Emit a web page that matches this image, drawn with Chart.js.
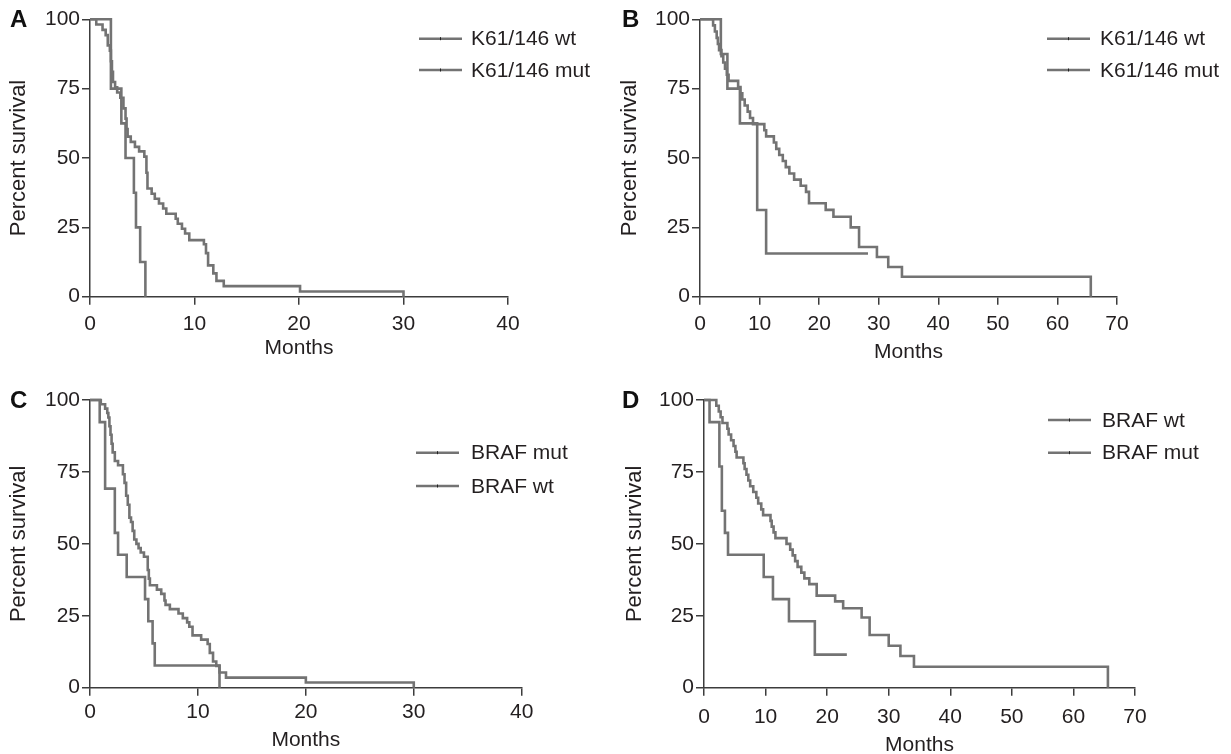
<!DOCTYPE html>
<html>
<head>
<meta charset="utf-8">
<title>Survival by K61/146 and BRAF status</title>
<script src="https://cdn.jsdelivr.net/npm/chart.js@4.4.1/dist/chart.umd.min.js"></script>
<style>
  html, body { margin: 0; padding: 0; background: #fff; overflow: hidden; width: 1231px; height: 754px; }
  canvas { position: absolute; }
</style>
</head>
<body>
<canvas id="panelA" style="left:0px;top:0px" width="615" height="377"></canvas>
<canvas id="panelB" style="left:615px;top:0px" width="616" height="377"></canvas>
<canvas id="panelC" style="left:0px;top:377px" width="615" height="390"></canvas>
<canvas id="panelD" style="left:615px;top:377px" width="616" height="390"></canvas>
<script>
// ---- Tick values ----
const percentTicks = [0, 25, 50, 75, 100];
const monthTicksShort = [0, 10, 20, 30, 40];
const monthTicksLong = [0, 10, 20, 30, 40, 50, 60, 70];

// ---- Panel A: K61/146 status (short follow-up) ----
const aWtMonths = [0, 0.6, 1.2, 1.5, 1.7, 1.9, 2.0, 2.1, 2.2, 2.4, 2.6, 2.9, 3.2, 3.4, 3.5, 3.6, 3.9, 4.3, 4.7, 5.2, 5.4, 5.5, 5.9, 6.2, 6.6, 7.0, 7.3, 8.2, 8.4, 8.8, 9.1, 9.5, 10.9, 11.1, 11.3, 11.8, 12.1, 12.8, 20.1, 30.0];
const aWtSurv   = [100, 98.1, 96.2, 94.3, 90.6, 88.7, 84.9, 81.1, 77.4, 75.5, 73.6, 71.7, 67.9, 64.2, 60.4, 57.7, 55.8, 54.0, 52.4, 50.5, 44.7, 39.0, 37.1, 35.3, 33.6, 31.8, 29.9, 28.1, 26.3, 24.5, 22.8, 20.4, 18.9, 15.7, 11.3, 8.4, 5.7, 3.8, 1.9, 0];
const aMutMonths = [0, 2.0, 3.0, 3.4, 4.2, 4.4, 4.8, 5.3];
const aMutSurv   = [100, 75, 62.5, 50, 37.5, 25, 12.5, 0];

// ---- Panel B: K61/146 status (long follow-up) ----
const bWtMonths = [0, 2.2, 2.5, 2.8, 3.0, 3.2, 3.6, 3.9, 4.2, 4.5, 4.8, 6.4, 6.8, 7.1, 7.5, 8.0, 8.4, 8.9, 10.8, 11.1, 12.4, 12.8, 13.3, 13.9, 14.4, 15.0, 15.8, 16.9, 17.8, 18.3, 21.1, 22.4, 25.3, 26.7, 29.7, 31.6, 33.9, 65.6];
const bWtSurv   = [100, 97.8, 95.6, 93.3, 91.1, 88.9, 86.7, 84.4, 82.2, 80.0, 77.8, 75.6, 73.3, 71.1, 68.9, 66.7, 64.4, 62.2, 60.0, 57.8, 55.6, 53.3, 51.1, 48.9, 46.7, 44.4, 42.2, 40.0, 37.8, 33.7, 31.3, 28.8, 25.0, 17.9, 14.3, 10.7, 7.2, 0];
const bMutMonths = [0, 3.5, 4.6, 6.7, 9.6, 11.1, 28.2];
const bMutSurv   = [100, 87.5, 75, 62.5, 31.25, 15.6, 15.6];

// ---- Panel C: BRAF status (short follow-up) ----
const cMutMonths = [0, 0.9, 1.4, 2.3, 2.6, 3.4, 5.1, 5.4, 5.8, 6.0, 12.0];
const cMutSurv   = [100, 92.3, 69.2, 53.8, 46.2, 38.5, 30.8, 23.1, 15.4, 7.7, 0];
const cWtMonths = [0, 1.0, 1.4, 1.6, 1.7, 1.8, 1.9, 2.0, 2.1, 2.3, 2.6, 3.05, 3.2, 3.35, 3.5, 3.65, 3.8, 3.95, 4.1, 4.3, 4.5, 4.7, 5.0, 5.35, 5.45, 5.55, 6.2, 6.6, 6.9, 7.0, 7.4, 8.2, 8.6, 9.0, 9.2, 9.5, 10.3, 10.9, 11.1, 11.4, 11.7, 12.0, 12.6, 20.0, 30.0];
const cWtSurv   = [100, 98.5, 97.0, 95.5, 93.9, 90.9, 87.9, 84.8, 81.8, 78.8, 77.3, 74.2, 71.2, 66.7, 63.6, 59.1, 57.6, 54.5, 51.5, 50.0, 48.5, 47.0, 45.5, 40.9, 37.9, 35.6, 34.1, 32.6, 30.3, 28.8, 27.3, 25.8, 24.2, 22.7, 21.2, 18.2, 16.7, 15.2, 12.1, 9.1, 7.6, 5.3, 3.5, 1.8, 0];

// ---- Panel D: BRAF status (long follow-up) ----
const dWtMonths = [0, 2.0, 2.4, 2.7, 3.0, 3.8, 4.0, 4.4, 4.8, 5.1, 5.3, 6.4, 6.6, 6.9, 7.2, 7.5, 8.0, 8.5, 8.8, 9.3, 9.6, 10.8, 11.0, 11.3, 11.6, 13.4, 14.0, 14.4, 14.8, 15.2, 15.8, 16.3, 17.1, 18.3, 21.3, 22.6, 25.6, 26.9, 30.0, 31.9, 34.1, 65.6];
const dWtSurv   = [100, 98.0, 96.0, 94.0, 92.0, 90.0, 88.0, 86.0, 84.0, 82.0, 80.0, 78.0, 76.0, 74.0, 72.0, 70.0, 68.0, 66.0, 64.0, 62.0, 60.0, 58.0, 56.0, 54.0, 52.0, 50.0, 48.0, 46.0, 44.0, 42.0, 40.0, 38.0, 36.0, 32.0, 30.0, 27.6, 24.4, 18.3, 14.6, 11.0, 7.3, 0];
const dMutMonths = [0, 0.9, 2.5, 2.9, 3.4, 3.9, 9.7, 11.2, 13.8, 18.0, 23.2];
const dMutSurv   = [100, 92.3, 76.9, 61.5, 53.8, 46.2, 38.5, 30.8, 23.1, 11.5, 11.5];

// ---- Styling ----
const FONT = '"Liberation Sans", Arial, Helvetica, sans-serif';
const TEXT = '#231f20';
const AXIS = '#3c3c3c';
const CURVE = '#737373';

Chart.defaults.font.family = FONT;
Chart.defaults.color = TEXT;

function toPoints(months, surv) {
  return months.map((m, i) => ({ x: m, y: surv[i] }));
}

function curve(label, months, surv) {
  return {
    label,
    data: toPoints(months, surv),
    borderColor: CURVE,
    borderWidth: 2.6,
    stepped: 'before',
    pointRadius: 0,
    fill: false,
    clip: 6
  };
}

// Legend: line sample with a small censor tick, then the series name; plus the panel letter
function legendPlugin(lay) {
  return {
    id: 'kmLegend',
    afterDraw(chart) {
      const ctx = chart.ctx;
      ctx.save();
      chart.data.datasets.forEach((ds, i) => {
        const y = lay.rows[i];
        ctx.strokeStyle = ds.borderColor;
        ctx.lineWidth = 2.6;
        ctx.beginPath();
        ctx.moveTo(lay.lineX, y);
        ctx.lineTo(lay.lineX + 43, y);
        ctx.stroke();
        const mid = lay.lineX + 21.5;
        ctx.strokeStyle = '#222';
        ctx.lineWidth = 1;
        ctx.beginPath();
        ctx.moveTo(mid, y - 1.5);
        ctx.lineTo(mid, y + 1.5);
        ctx.stroke();
        ctx.fillStyle = TEXT;
        ctx.font = '21px ' + FONT;
        ctx.textAlign = 'left';
        ctx.textBaseline = 'middle';
        ctx.fillText(ds.label, lay.textX, y + 1);
      });
      ctx.font = 'bold 24px ' + FONT;
      ctx.textBaseline = 'middle';
      ctx.fillStyle = '#111';
      ctx.fillText(lay.tag, lay.tagX, lay.tagY);
      ctx.restore();
    }
  };
}

function makeChart(id, datasets, xTicks, xMax, lay) {
  return new Chart(document.getElementById(id), {
    type: 'line',
    data: { datasets },
    plugins: [legendPlugin(lay)],
    options: {
      responsive: false,
      animation: false,
      events: [],
      layout: { padding: { left: 0, top: lay.top, right: lay.right, bottom: 0 } },
      plugins: { legend: { display: false }, tooltip: { enabled: false } },
      scales: {
        x: {
          type: 'linear',
          min: 0,
          max: xMax,
          afterBuildTicks: s => { s.ticks = xTicks.map(v => ({ value: v })); },
          afterFit: s => { s.height = lay.xHeight; s.paddingLeft = 0; s.paddingRight = 0; },
          grid: { drawOnChartArea: false, drawTicks: true, tickLength: 8, color: AXIS, lineWidth: 1.5 },
          border: { display: true, color: AXIS, width: 1.5 },
          ticks: { font: { size: 21 }, padding: lay.xTickPad, color: TEXT, maxRotation: 0 },
          title: { display: true, text: 'Months', font: { size: 21 }, color: TEXT, padding: { top: 0, bottom: lay.xTitlePad } }
        },
        y: {
          type: 'linear',
          min: 0,
          max: 100,
          afterBuildTicks: s => { s.ticks = percentTicks.map(v => ({ value: v })); },
          afterFit: s => { s.width = lay.yWidth; s.paddingTop = 0; s.paddingBottom = 0; },
          grid: { drawOnChartArea: false, drawTicks: true, tickLength: 8, color: AXIS, lineWidth: 1.5 },
          border: { display: true, color: AXIS, width: 1.5 },
          ticks: { font: { size: 21 }, padding: 2, color: TEXT },
          title: { display: true, text: 'Percent survival', font: { size: 22 }, color: TEXT, padding: { top: lay.yTitlePad, bottom: 0 } }
        }
      }
    }
  });
}

makeChart('panelA', [
  curve('K61/146 wt', aWtMonths, aWtSurv),
  curve('K61/146 mut', aMutMonths, aMutSurv)
], monthTicksShort, 40, {
  top: 19.3, right: 107, yWidth: 90, xHeight: 80.3, xTickPad: 7, xTitlePad: 16, yTitlePad: 6,
  lineX: 419, textX: 471, rows: [38.7, 70], tag: 'A', tagX: 10, tagY: 20
});

makeChart('panelB', [
  curve('K61/146 wt', bWtMonths, bWtSurv),
  curve('K61/146 mut', bMutMonths, bMutSurv)
], monthTicksLong, 70, {
  top: 19.3, right: 114, yWidth: 85, xHeight: 80.3, xTickPad: 7, xTitlePad: 12, yTitlePad: 2,
  lineX: 432, textX: 485, rows: [38.7, 70], tag: 'B', tagX: 7, tagY: 20
});

makeChart('panelC', [
  curve('BRAF mut', cMutMonths, cMutSurv),
  curve('BRAF wt', cWtMonths, cWtSurv)
], monthTicksShort, 40, {
  top: 23, right: 93.3, yWidth: 90, xHeight: 79.3, xTickPad: 4, xTitlePad: 14, yTitlePad: 6,
  lineX: 416, textX: 471, rows: [75.7, 109], tag: 'C', tagX: 10, tagY: 24
});

makeChart('panelD', [
  curve('BRAF wt', dWtMonths, dWtSurv),
  curve('BRAF mut', dMutMonths, dMutSurv)
], monthTicksLong, 70, {
  top: 23, right: 96, yWidth: 89, xHeight: 79.3, xTickPad: 9, xTitlePad: 9, yTitlePad: 7,
  lineX: 433, textX: 487, rows: [43, 75.7], tag: 'D', tagX: 7, tagY: 24
});
</script>
</body>
</html>
